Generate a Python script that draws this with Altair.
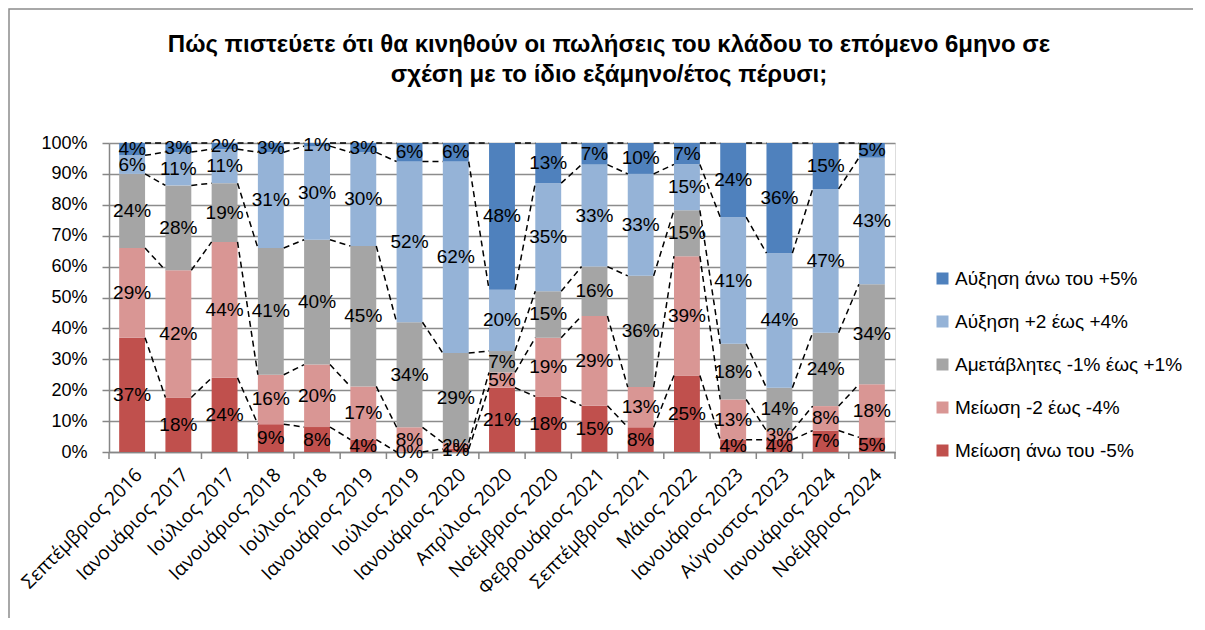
import altair as alt
import pandas as pd

categories = [
    "Σεπτέμβριος 2016", "Ιανουάριος 2017", "Ιούλιος 2017", "Ιανουάριος 2018",
    "Ιούλιος 2018", "Ιανουάριος 2019", "Ιούλιος 2019", "Ιανουάριος 2020",
    "Απρίλιος 2020", "Νοέμβριος 2020", "Φεβρουάριος 2021", "Σεπτέμβριος 2021",
    "Μάιος 2022", "Ιανουάριος 2023", "Αύγουστος 2023", "Ιανουάριος 2024",
    "Νοέμβριος 2024",
]

# series, bottom to top of each bar (percent)
dec_over5 = [37, 18, 24, 9, 8, 4, 0, 1, 21, 18, 15, 8, 25, 4, 4, 7, 5]
dec_2_4 = [29, 42, 44, 16, 20, 17, 8, 2, 5, 19, 29, 13, 39, 13, 3, 8, 18]
unchanged = [24, 28, 19, 41, 40, 45, 34, 29, 7, 15, 16, 36, 15, 18, 14, 24, 34]
inc_2_4 = [6, 11, 11, 31, 30, 30, 52, 62, 20, 35, 33, 33, 15, 41, 44, 47, 43]
inc_over5 = [4, 3, 2, 3, 1, 3, 6, 6, 48, 13, 7, 10, 7, 24, 36, 15, 5]

series_names = [
    "Μείωση άνω του -5%",
    "Μείωση -2 έως -4%",
    "Αμετάβλητες -1% έως +1%",
    "Αύξηση +2 έως +4%",
    "Αύξηση άνω του +5%",
]
series_colors = ["#C0504D", "#D99694", "#A5A5A5", "#95B3D7", "#4F81BD"]
series_values = [dec_over5, dec_2_4, unchanged, inc_2_4, inc_over5]

title_lines = [
    "Πώς πιστεύετε ότι θα κινηθούν οι πωλήσεις του κλάδου το επόμενο 6μηνο σε",
    "σχέση με το ίδιο εξάμηνο/έτος πέρυσι;",
]

HALF = 0.28
FONT = "Liberation Sans"

rows = []
tops = {s: [] for s in series_names}
for i, c in enumerate(categories):
    total = sum(v[i] for v in series_values)
    cum = 0
    for s, v in zip(series_names, series_values):
        y0 = cum / total
        cum += v[i]
        y1 = cum / total
        rows.append(dict(idx=i, cat=c, series=s, value=v[i], y0=y0, y1=y1,
                         ym=(y0 + y1) / 2, label=f"{v[i]}%"))
        tops[s].append(y1)
df = pd.DataFrame(rows)

line_rows = []
for s in series_names:
    for i in range(len(categories) - 1):
        line_rows.append(dict(series=s, i0=i, i1=i + 1,
                              ya=tops[s][i], yb=tops[s][i + 1]))
lines_df = pd.DataFrame(line_rows)

bounds_df = pd.DataFrame({"b": [i - 0.5 for i in range(len(categories) + 1)]})

n = len(categories)
xscale = alt.Scale(domain=[-0.5, n - 0.5], nice=False, zero=False)
yscale = alt.Scale(domain=[0, 1], nice=False)

label_expr = "[" + ",".join("'" + c + "'" for c in categories) + "][datum.value]"

xaxis = alt.Axis(
    values=list(range(n)), labelExpr=label_expr, title=None, ticks=False,
    grid=False, domainColor="#868686", domainWidth=1.5, labelAngle=-45,
    labelAlign="right", labelBaseline="top", labelFont="Open Sans",
    labelFontSize=19, labelColor="black", labelPadding=13, labelOverlap=False,
)
yaxis = alt.Axis(
    values=[k / 10 for k in range(11)], format=".0%", title=None,
    grid=True, gridColor="#8C8C8C", gridWidth=1.5, domainColor="#868686",
    domainWidth=1.5, tickColor="#868686", tickSize=7, tickWidth=1.5,
    labelFont=FONT, labelFontSize=18, labelColor="black", labelPadding=15,
    labelOverlap=False,
)

legend_order = series_names[::-1]
legend_colors = series_colors[::-1]

frame = alt.Chart(pd.DataFrame({"a": [0]})).mark_rect(
    fill="transparent", stroke="#8C8C8C", strokeWidth=1.5
).encode(
    x=alt.value(-100), x2=alt.value(1087), y=alt.value(-134), y2=alt.value(480),
)

title = alt.Chart(pd.DataFrame({"a": [0]})).mark_text(
    text=title_lines, font=FONT, fontSize=24, fontWeight="bold", color="black",
    align="center", baseline="top", lineHeight=30,
).encode(x=alt.value(500), y=alt.value(-110))

bars = alt.Chart(df).transform_calculate(
    xa=f"datum.idx - {HALF}", xb=f"datum.idx + {HALF}"
).mark_rect().encode(
    x=alt.X("xa:Q", scale=xscale, axis=xaxis),
    x2="xb:Q",
    y=alt.Y("y0:Q", scale=yscale, axis=yaxis),
    y2="y1:Q",
    color=alt.Color(
        "series:N",
        scale=alt.Scale(domain=legend_order, range=legend_colors),
        legend=alt.Legend(
            title=None, orient="none", legendX=824, legendY=126,
            symbolType="square", symbolSize=144, symbolStrokeWidth=0,
            labelFont=FONT, labelFontSize=19, labelColor="black",
            rowPadding=23, labelOffset=3, padding=0, labelLimit=0,
        ),
    ),
)

series_lines = alt.Chart(lines_df).transform_calculate(
    xa=f"datum.i0 + {HALF}", xb=f"datum.i1 - {HALF}"
).mark_rule(color="black", strokeWidth=1.5, strokeDash=[6, 4]).encode(
    x=alt.X("xa:Q", scale=xscale, axis=xaxis),
    x2="xb:Q",
    y=alt.Y("ya:Q", scale=yscale, axis=yaxis),
    y2="yb:Q",
)

labels = alt.Chart(df).mark_text(
    font=FONT, fontSize=19, color="black", align="center", baseline="middle"
).encode(
    x=alt.X("idx:Q", scale=xscale, axis=xaxis),
    y=alt.Y("ym:Q", scale=yscale, axis=yaxis),
    text="label:N",
)

bound_ticks = alt.Chart(bounds_df).mark_rule(color="#868686", strokeWidth=1.5).encode(
    x=alt.X("b:Q", scale=xscale, axis=xaxis),
    y=alt.value(309),
    y2=alt.value(316),
)

chart = alt.layer(frame, title, bars, series_lines, bound_ticks, labels).properties(
    width=786,
    height=309,
    autosize=alt.AutoSizeParams(type="none"),
    padding={"left": 101, "top": 135, "right": 298, "bottom": 166},
).configure_view(stroke=None).configure(background="white")

chart.save("out.html", embed_options={"renderer": "svg", "actions": False})
